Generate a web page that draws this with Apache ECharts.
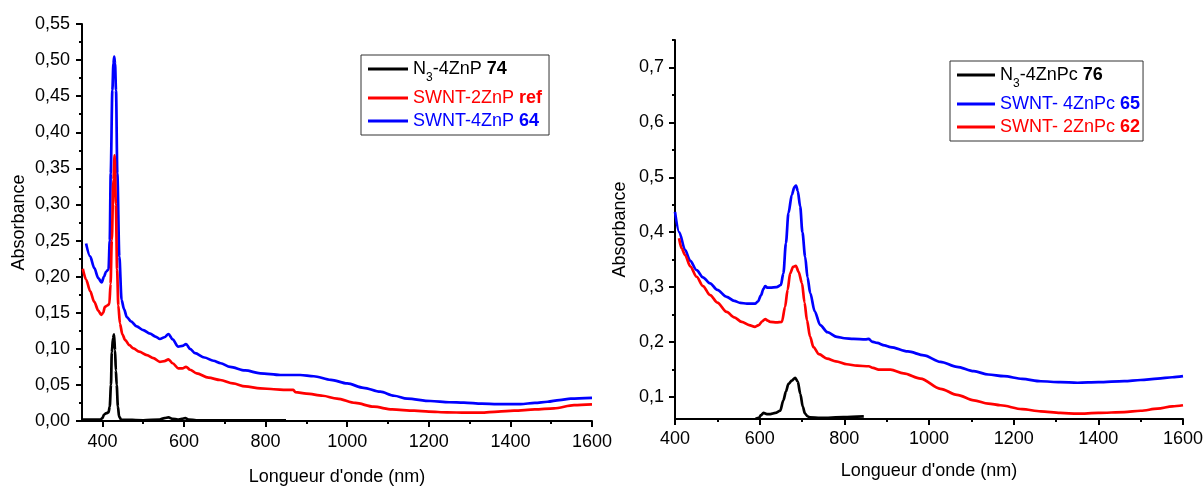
<!DOCTYPE html>
<html>
<head>
<meta charset="utf-8">
<script src="https://cdn.jsdelivr.net/npm/echarts@6/dist/echarts.min.js"></script>
<style>
html,body{margin:0;padding:0;background:#fff;}
#chart{width:1204px;height:486px;}
</style>
</head>
<body>
<div id="chart"></div>
<script>
// ---------- tick values ----------
const leftXTicks = [400, 600, 800, 1000, 1200, 1400, 1600];
const leftXMinor = [500, 700, 900, 1100, 1300, 1500];
const rightYTicks = [0.1, 0.2, 0.3, 0.4, 0.5, 0.6, 0.7];
const rightYMinor = [0.15, 0.25, 0.35, 0.45, 0.55, 0.65, 0.75];

// ---------- series names ----------
const leftNames = ['N3-4ZnP 74', 'SWNT-2ZnP ref', 'SWNT-4ZnP 64'];
const rightNames = ['N3-4ZnPc 76', 'SWNT- 4ZnPc 65', 'SWNT- 2ZnPc 62'];

// ---------- left panel data [nm, absorbance] ----------
const n3ZnP74 = [[350,0.002],[380,0.002],[395,0.002],[400,0.004],[404,0.009],[410,0.011],[415,0.012],[418,0.02],[421,0.05],[423,0.095],[426,0.115],[428.5,0.120],[431,0.098],[433,0.07],[435,0.05],[438,0.02],[441,0.006],[446,0.002],[500,0.001],[540,0.002],[552,0.004],[562,0.005],[572,0.003],[585,0.002],[595,0.003],[603,0.004],[612,0.002],[630,0.001],[700,0.001],[800,0.001],[850,0.001]];

const swnt2ZnPref = [[352,0.211],[360,0.196],[370,0.180],[380,0.165],[390,0.153],[397,0.147],[402,0.150],[406,0.158],[412,0.160],[417,0.162],[420,0.19],[423,0.25],[427,0.334],[430,0.368],[433,0.30],[436,0.21],[439,0.16],[443,0.135],[449,0.120],[456,0.112],[466,0.105],[476,0.1006],[490,0.096],[509,0.0914],[525,0.087],[541,0.082],[552,0.083],[562,0.0854],[572,0.080],[586,0.073],[596,0.073],[605,0.075],[615,0.071],[631,0.066],[660,0.060],[689,0.0568],[720,0.052],[750,0.048],[787,0.0453],[820,0.044],[850,0.043],[868,0.043],[873,0.040],[900,0.038],[940,0.035],[975,0.031],[1020,0.025],[1065,0.0198],[1110,0.016],[1164,0.0143],[1200,0.013],[1245,0.012],[1290,0.0115],[1327,0.0115],[1370,0.013],[1409,0.0143],[1460,0.016],[1507,0.0176],[1556,0.022],[1600,0.023]];

const swnt4ZnP64 = [[360,0.246],[370,0.228],[380,0.212],[390,0.198],[398,0.192],[404,0.200],[409,0.207],[415,0.210],[418,0.25],[420.4,0.343],[424.4,0.458],[427,0.495],[429,0.505],[431,0.495],[433.4,0.458],[436.6,0.343],[441.5,0.228],[447,0.168],[453,0.155],[460,0.144],[470,0.138],[484,0.131],[500,0.126],[517,0.121],[530,0.117],[541,0.1136],[552,0.116],[562,0.1205],[572,0.113],[586,0.103],[596,0.104],[605,0.1066],[615,0.100],[627,0.094],[650,0.088],[672,0.0835],[690,0.080],[713,0.075],[750,0.070],[787,0.066],[836,0.0637],[885,0.0637],[918,0.062],[960,0.057],[1000,0.052],[1040,0.046],[1081,0.0406],[1115,0.035],[1147,0.031],[1204,0.0277],[1250,0.026],[1286,0.0254],[1330,0.024],[1368,0.0235],[1425,0.0235],[1460,0.025],[1491,0.0267],[1520,0.029],[1548,0.031],[1600,0.032]];

// ---------- right panel data [nm, absorbance] ----------
const n3ZnPc76 = [[590,0.060],[598,0.062],[603,0.067],[609,0.071],[617,0.069],[625,0.069],[637,0.071],[648.5,0.075],[656,0.094],[662,0.110],[668,0.124],[676,0.130],[684,0.135],[690,0.128],[696,0.106],[702,0.082],[707,0.070],[713,0.065],[719,0.063],[743,0.062],[798,0.0635],[846,0.0648]];

const swnt4ZnPc65 = [[400,0.437],[410,0.40],[423.7,0.368],[436,0.348],[451,0.331],[466,0.318],[483,0.307],[500,0.295],[522,0.2825],[540,0.275],[554,0.2715],[570,0.270],[589,0.270],[596,0.274],[603,0.285],[609,0.297],[613,0.302],[619,0.299],[625,0.299],[640,0.300],[650,0.304],[656,0.325],[662,0.38],[668,0.435],[676,0.468],[682,0.482],[686,0.485],[690,0.475],[695.7,0.447],[701,0.40],[707.5,0.355],[713,0.318],[719.5,0.289],[730,0.256],[743,0.231],[760,0.218],[782.6,0.2095],[800,0.207],[822,0.2058],[850,0.205],[858,0.2058],[865,0.201],[877.5,0.1985],[895,0.194],[909,0.191],[950,0.183],[988,0.176],[1027,0.164],[1066,0.155],[1106,0.147],[1140,0.141],[1177,0.138],[1220,0.133],[1264,0.1287],[1310,0.127],[1351,0.126],[1400,0.127],[1461,0.129],[1500,0.131],[1540,0.1335],[1575,0.136],[1600,0.138]];

const swnt2ZnPc62 = [[409.5,0.389],[416,0.37],[423.7,0.3586],[436,0.338],[451,0.319],[466,0.302],[483,0.2856],[500,0.272],[522,0.255],[540,0.245],[557.6,0.2369],[575,0.231],[589,0.2277],[598,0.231],[606,0.238],[613,0.242],[619,0.239],[625,0.237],[640,0.236],[652.5,0.237],[660,0.264],[666,0.295],[672,0.325],[679,0.337],[685.5,0.339],[692,0.328],[700,0.307],[706,0.272],[711.7,0.240],[719,0.210],[727,0.191],[740,0.178],[759,0.170],[780,0.165],[806,0.1597],[830,0.157],[857.6,0.156],[868,0.153],[881,0.150],[909,0.150],[940,0.143],[980,0.1336],[1027,0.115],[1066,0.104],[1106,0.094],[1140,0.088],[1169,0.085],[1220,0.078],[1264,0.0739],[1310,0.071],[1351,0.0697],[1400,0.071],[1461,0.0726],[1500,0.075],[1540,0.0788],[1575,0.083],[1600,0.085]];

// ---------- styling ----------
const FONT = '"Liberation Sans", Arial, sans-serif';
const BLACK = '#000000', RED = '#ff0000', BLUE = '#0000ff';
const LBL = 18;
const NAME = 18;
const LEG = 18;

const richLabels = {
  'N3-4ZnP 74': '{k|N}{ks|3}{k|-4ZnP }{kb|74}',
  'SWNT-2ZnP ref': '{r|SWNT-2ZnP }{rb|ref}',
  'SWNT-4ZnP 64': '{b|SWNT-4ZnP }{bb|64}',
  'N3-4ZnPc 76': '{k|N}{ks|3}{k|-4ZnPc }{kb|76}',
  'SWNT- 4ZnPc 65': '{b|SWNT- 4ZnPc }{bb|65}',
  'SWNT- 2ZnPc 62': '{r|SWNT- 2ZnPc }{rb|62}'
};
const rich = {
  k: {color: BLACK, fontSize: LEG, fontFamily: FONT},
  kb: {color: BLACK, fontSize: LEG, fontFamily: FONT, fontWeight: 'bold'},
  ks: {color: BLACK, fontSize: 12, fontFamily: FONT, padding: [18, 0, 0, 0]},
  r: {color: RED, fontSize: LEG, fontFamily: FONT},
  rb: {color: RED, fontSize: LEG, fontFamily: FONT, fontWeight: 'bold'},
  b: {color: BLUE, fontSize: LEG, fontFamily: FONT},
  bb: {color: BLUE, fontSize: LEG, fontFamily: FONT, fontWeight: 'bold'}
};

function legendCfg(names, left, top, itemWidth, padding) {
  return {
    data: names,
    left: left, top: top,
    orient: 'vertical',
    icon: 'rect',
    itemWidth: itemWidth, itemHeight: 3,
    itemGap: 5,
    borderColor: '#333', borderWidth: 1,
    padding: padding,
    selectedMode: false,
    formatter: n => richLabels[n],
    textStyle: {rich: rich, fontFamily: FONT, fontSize: LEG}
  };
}

const axisLineStyle = {color: BLACK, width: 2};
const nameStyle = {fontFamily: FONT, fontSize: NAME, color: BLACK};
const labelStyle = {fontFamily: FONT, fontSize: LBL, color: BLACK};
const plainNum = v => String(v);

function lineSeries(name, data, color, xi, yi) {
  return {
    name: name, type: 'line', data: data,
    xAxisIndex: xi, yAxisIndex: yi,
    showSymbol: false, symbol: 'none',
    smooth: 0.3, smoothMonotone: 'x',
    lineStyle: {color: color, width: 2.7},
    itemStyle: {color: color},
    emphasis: {disabled: true},
    animation: false,
    clip: true
  };
}

const option = {
  animation: false,
  backgroundColor: '#ffffff',
  textStyle: {fontFamily: FONT},
  legend: [
    legendCfg(leftNames, 361, 55, 40, [5, 7, 5, 7]),
    legendCfg(rightNames, 950, 61, 38, [5, 3, 5, 7])
  ],
  grid: [
    {left: 82, top: 24, width: 510, height: 397, containLabel: false, outerBoundsMode: 'none'},
    {left: 675, top: 40, width: 508, height: 379, containLabel: false, outerBoundsMode: 'none'}
  ],
  xAxis: [
    { // 0: left main
      gridIndex: 0, type: 'value', min: 350, max: 1600, position: 'bottom',
      axisLine: {onZero: false, lineStyle: axisLineStyle},
      axisTick: {show: true, customValues: leftXTicks, length: 6, lineStyle: {color: BLACK, width: 2}},
      axisLabel: {customValues: leftXTicks, margin: 12, formatter: plainNum, ...labelStyle},
      splitLine: {show: false},
      name: "Longueur d'onde (nm)", nameLocation: 'middle', nameGap: 47, nameTextStyle: nameStyle
    },
    { // 1: left minor ticks
      gridIndex: 0, type: 'value', min: 350, max: 1600, position: 'bottom',
      axisLine: {show: false, onZero: false},
      axisTick: {show: true, customValues: leftXMinor, length: 3, lineStyle: {color: BLACK, width: 2}},
      axisLabel: {show: false},
      splitLine: {show: false}
    },
    { // 2: right
      gridIndex: 1, type: 'value', min: 400, max: 1600, interval: 200, position: 'bottom',
      axisLine: {onZero: false, lineStyle: axisLineStyle},
      axisTick: {show: true, length: 6, lineStyle: {color: BLACK, width: 2}},
      minorTick: {show: true, splitNumber: 2, length: 3, lineStyle: {color: BLACK, width: 2}},
      axisLabel: {margin: 11, formatter: plainNum, ...labelStyle},
      splitLine: {show: false},
      name: "Longueur d'onde (nm)", nameLocation: 'middle', nameGap: 43, nameTextStyle: nameStyle
    }
  ],
  yAxis: [
    { // 0: left
      gridIndex: 0, type: 'value', min: 0, max: 0.55, interval: 0.05, position: 'left',
      axisLine: {show: true, onZero: false, lineStyle: axisLineStyle},
      axisTick: {show: true, length: 6, lineStyle: {color: BLACK, width: 2}},
      minorTick: {show: true, splitNumber: 2, length: 3, lineStyle: {color: BLACK, width: 2}},
      axisLabel: {margin: 12, formatter: v => v.toFixed(2).replace('.', ','), ...labelStyle},
      splitLine: {show: false},
      name: 'Absorbance', nameLocation: 'middle', nameGap: 54, nameTextStyle: nameStyle
    },
    { // 1: right main
      gridIndex: 1, type: 'value', min: 0.06, max: 0.75, position: 'left',
      axisLine: {show: true, onZero: false, lineStyle: axisLineStyle},
      axisTick: {show: true, customValues: rightYTicks, length: 6, lineStyle: {color: BLACK, width: 2}},
      axisLabel: {customValues: rightYTicks, margin: 11, formatter: v => v.toFixed(1).replace('.', ','), ...labelStyle},
      splitLine: {show: false},
      name: 'Absorbance', nameLocation: 'middle', nameGap: 46, nameTextStyle: nameStyle
    },
    { // 2: right minor ticks
      gridIndex: 1, type: 'value', min: 0.06, max: 0.75, position: 'left',
      axisLine: {show: false, onZero: false},
      axisTick: {show: true, customValues: rightYMinor, length: 3, lineStyle: {color: BLACK, width: 2}},
      axisLabel: {show: false},
      splitLine: {show: false}
    }
  ],
  series: [
    lineSeries(leftNames[2], swnt4ZnP64, BLUE, 0, 0),
    lineSeries(leftNames[1], swnt2ZnPref, RED, 0, 0),
    lineSeries(leftNames[0], n3ZnP74, BLACK, 0, 0),
    lineSeries(rightNames[1], swnt4ZnPc65, BLUE, 2, 1),
    lineSeries(rightNames[2], swnt2ZnPc62, RED, 2, 1),
    lineSeries(rightNames[0], n3ZnPc76, BLACK, 2, 1)
  ]
};

const chart = echarts.init(document.getElementById('chart'), null, {renderer: 'canvas'});
chart.setOption(option);
</script>
</body>
</html>
